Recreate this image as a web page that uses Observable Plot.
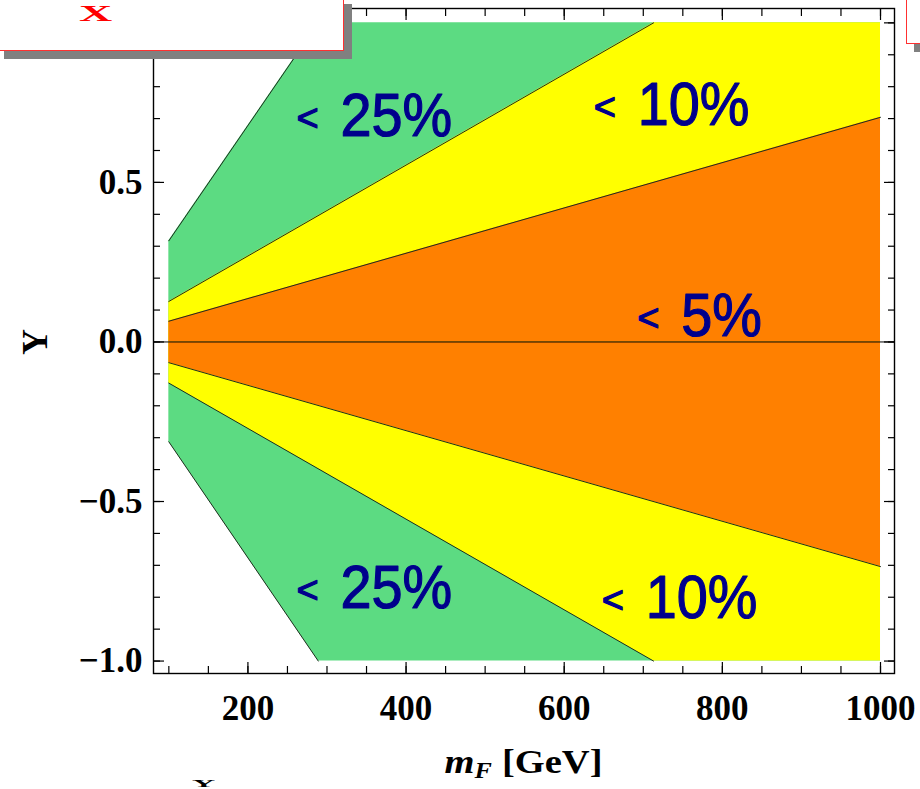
<!DOCTYPE html>
<html><head><meta charset="utf-8">
<script src="https://cdn.jsdelivr.net/npm/d3@7"></script>
<script src="https://cdn.jsdelivr.net/npm/@observablehq/plot@0.6"></script>
<style>
html,body{margin:0;padding:0;background:#fff;}
body{width:920px;height:789px;overflow:hidden;position:relative;}
#chart{position:absolute;left:0;top:0;}
.box{position:absolute;background:#fff;border:1.5px solid #ff3030;box-shadow:8px 8px 0 #808080;box-sizing:border-box;}
.redX{position:absolute;left:82px;top:4.5px;font:bold 23px/23px "Liberation Serif",serif;color:#ff0000;transform:scaleX(2);transform-origin:0 0;}
.botY{position:absolute;left:192px;top:780px;font:bold 10px/8px "Liberation Serif",serif;color:#000;transform:scaleX(3.2);transform-origin:0 0;}
</style></head><body>
<div id="chart"></div>
<div class="box" style="left:-4px;top:-4px;width:348px;height:55px;"><div class="redX">X</div></div>
<div class="box" style="left:906px;top:-4px;width:40px;height:48px;"></div>
<div class="botY">Y</div>
<script>
// ---- data ----
const mF25Up = [100, 289, 1000], Y25Up = [0.317, 1.0, 1.0];
const mF25Lo = [100, 289, 1000], Y25Lo = [-0.313, -1.0, -1.0];
const mF10Up = [100, 713, 1000], Y10Up = [0.127, 1.0, 1.0];
const mF10Lo = [100, 713, 1000], Y10Lo = [-0.129, -1.0, -1.0];
const mF5 = [100, 1000], Y5Up = [0.065, 0.704], Y5Lo = [-0.065, -0.704];

const labelText = ["25%", "10%", "5%", "25%", "10%"];
const labelX = [317, 693, 748, 317, 703];
const labelY = [0.647, 0.679, 0.020, -0.835, -0.864];

const xTicks = [200, 400, 600, 800, 1000];
const xMinor = d3.range(100, 1001, 50);
const yTicks = [-1.0, -0.5, 0.0, 0.5];
const yMajorAll = [-1.0, -0.5, 0.0, 0.5, 1.0];
const yMinor = d3.range(-10, 11).map(d => d / 10);

// ---- build tables ----
const pts = (ms, vs) => ms.map((m, i) => ({m, v: vs[i]}));
const contour = (p) => { const i = p.findIndex(d => Math.abs(d.v) >= 1); return i < 0 ? p : p.slice(0, i + 1); };
const up25 = pts(mF25Up, Y25Up), lo25 = pts(mF25Lo, Y25Lo);
const up10 = pts(mF10Up, Y10Up), lo10 = pts(mF10Lo, Y10Lo);
const up5 = pts(mF5, Y5Up), lo5 = pts(mF5, Y5Lo);
const labels = labelText.map((t, i) => ({t, x: labelX[i], y: labelY[i]}));

const GREEN = "#5cdb82", YELLOW = "#ffff00", ORANGE = "#ff8000", NAVY = "#00008c", LINE = "#1e2e1e";
const tickFont = {fontSize: 35, fontWeight: "bold", fontFamily: "'Liberation Serif', serif", fill: "#000"};

const plot = Plot.plot({
  width: 920, height: 789,
  marginLeft: 153, marginRight: 26, marginTop: 8, marginBottom: 116,
  x: {domain: [80.6, 1017.7]},
  y: {domain: [-1.039, 1.045]},
  style: {fontFamily: "'Liberation Serif', serif", background: "transparent", overflow: "visible"},
  marks: [
    Plot.areaY(up25, {x: "m", y1: 0, y2: "v", fill: GREEN}),
    Plot.areaY(lo25, {x: "m", y1: "v", y2: 0, fill: GREEN}),
    Plot.areaY(up10, {x: "m", y1: 0, y2: "v", fill: YELLOW}),
    Plot.areaY(lo10, {x: "m", y1: "v", y2: 0, fill: YELLOW}),
    Plot.areaY(up5, {x: "m", y1: 0, y2: "v", fill: ORANGE}),
    Plot.areaY(lo5, {x: "m", y1: "v", y2: 0, fill: ORANGE}),
    ...[up25, lo25, up10, lo10, up5, lo5].map(p =>
      Plot.line(contour(p), {x: "m", y: "v", stroke: LINE, strokeWidth: 1})),
    Plot.ruleY([0], {stroke: "#000", strokeWidth: 1}),
    Plot.frame({stroke: "#000", strokeWidth: 1.4}),
    // inward ticks
    ...["bottom", "top"].flatMap(a => [
      Plot.axisX({anchor: a, ticks: xMinor, tickSize: -7, tickFormat: () => "", label: null, strokeWidth: 1.2}),
      Plot.axisX({anchor: a, ticks: xTicks, tickSize: -11, tickFormat: () => "", label: null, strokeWidth: 1.2})
    ]),
    ...["left", "right"].flatMap(a => [
      Plot.axisY({anchor: a, ticks: yMinor, tickSize: -7, tickFormat: () => "", label: null, strokeWidth: 1.2}),
      Plot.axisY({anchor: a, ticks: yMajorAll, tickSize: -11, tickFormat: () => "", label: null, strokeWidth: 1.2})
    ]),
    // tick labels
    Plot.axisX({anchor: "bottom", ticks: xTicks, tickSize: 0, tickPadding: 22, tickFormat: d => String(d), label: null, ...tickFont}),
    Plot.axisY({anchor: "left", ticks: yTicks, tickSize: 0, tickPadding: 11, tickFormat: d3.format(".1f"), label: null, ...tickFont}),
    // y axis title
    Plot.text(["Y"], {frameAnchor: "left", dx: -118, dy: 14, rotate: -90, text: d => d, fontSize: 36, fontWeight: "bold", fill: "#000"}),
    // region labels
    Plot.text(labels, {x: "x", y: "y", text: () => "<", dx: -44, dy: -5, textAnchor: "start", lineAnchor: "bottom",
      fontSize: 38, fill: NAVY, stroke: NAVY, strokeWidth: 1.2, fontFamily: "'Liberation Sans', sans-serif"}),
    Plot.text(labels, {x: "x", y: "y", text: "t", textAnchor: "start", lineAnchor: "bottom",
      fontSize: 62, fill: NAVY, stroke: NAVY, strokeWidth: 1.2, fontFamily: "'Liberation Sans', sans-serif"})
  ]
});
document.getElementById("chart").appendChild(plot);

// condense region labels a little (the original uses a narrower hand-drawn font)
d3.select(plot).selectAll("text").each(function() {
  const t = this.textContent;
  if (/%$/.test(t)) {
    const w = this.getComputedTextLength();
    this.setAttribute("textLength", w * 0.9);
    this.setAttribute("lengthAdjust", "spacingAndGlyphs");
  }
});

// x axis title with subscript
const xs = plot.scale("x");
const cx = (xs.range[0] + xs.range[1]) / 2;
const xl = d3.select(plot).append("text")
  .attr("x", cx).attr("y", 773).attr("text-anchor", "middle")
  .attr("font-family", "'Liberation Serif', serif").attr("font-size", 34).attr("font-weight", "bold").attr("fill", "#000");
xl.append("tspan").attr("font-style", "italic").text("m");
xl.append("tspan").attr("font-style", "italic").attr("font-size", 23).attr("dy", 5).text("F");
xl.append("tspan").attr("dy", -5).attr("dx", 9).text("[GeV]");
{
  const w = xl.node().getComputedTextLength();
  xl.attr("textLength", Math.max(w, 158)).attr("lengthAdjust", "spacingAndGlyphs");
}
</script>
</body></html>
